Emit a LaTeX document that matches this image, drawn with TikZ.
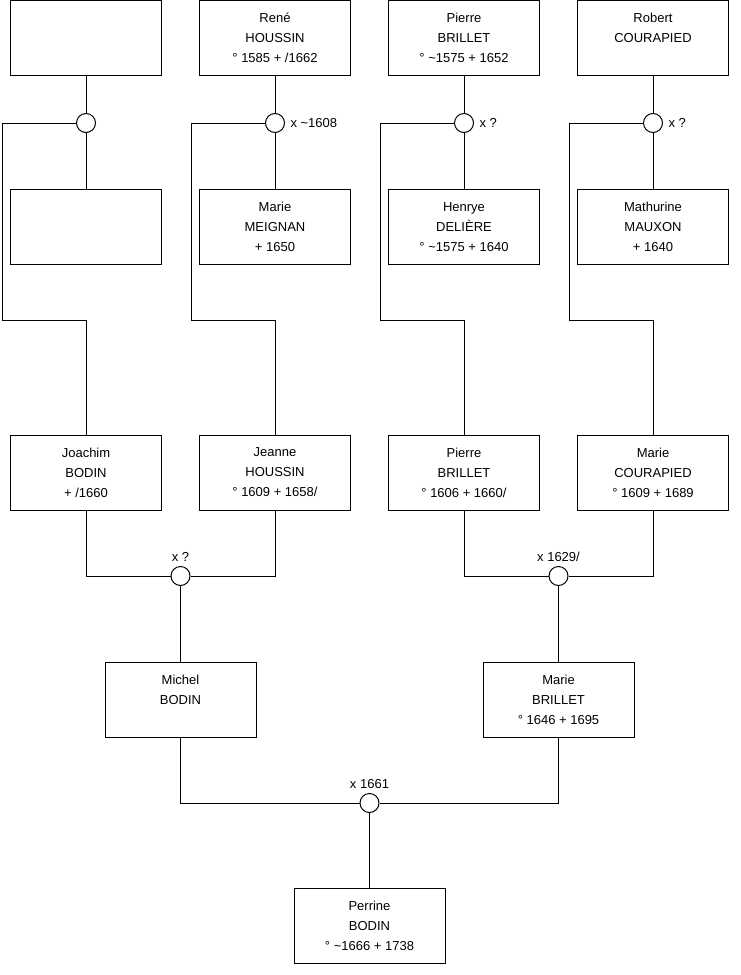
\documentclass[tikz,border=0pt]{standalone}
\usepackage{fontspec}
\setmainfont{Liberation Sans}
\usetikzlibrary{positioning}
\newcommand{\apprx}{\textasciitilde}

\begin{document}
\begin{tikzpicture}[x=0.75pt, y=-0.75pt, line width=0.75pt,
        p/.style={draw, align=center, font=\fontsize{9.75}{15}\selectfont, minimum width=113.25pt, minimum height=56.25pt, inner sep=0pt},
        u/.style={draw, circle, fill=white, minimum size=14.25pt, inner sep=0pt},
        ul/.style={font=\fontsize{9.75}{12}\selectfont, inner sep=1pt}]
      \useasboundingbox (0,0) rectangle (740,975);
      % great-grandparents
      \node[p] (a1) at (86,38) {};
      \node[p] (a2) at (275,38) {René\\HOUSSIN\\° 1585 + /1662};
      \node[p] (a3) at (464,38) {Pierre\\BRILLET\\° \apprx1575 + 1652};
      \node[p] (a4) at (653,38) {Robert\\COURAPIED\\\mbox{}};
      \node[p] (b1) at (86,227) {};
      \node[p] (b2) at (275,227) {Marie\\MEIGNAN\\+ 1650};
      \node[p] (b3) at (464,227) {Henrye\\DELIÈRE\\° \apprx1575 + 1640};
      \node[p] (b4) at (653,227) {Mathurine\\MAUXON\\+ 1640};
      \node[u] (u1) at (86,123) {};
      \node[u] (u2) at (275,123) {};
      \node[u] (u3) at (464,123) {};
      \node[u] (u4) at (653,123) {};
      \node[ul, right=2.75pt of u2] (l2) {x \apprx1608};
      \node[ul, right=2.75pt of u3] (l3) {x ?};
      \node[ul, right=2.75pt of u4] (l4) {x ?};
      % grandparents
      \node[p] (c1) at (86,472.5) {Joachim\\BODIN\\+ /1660};
      \node[p] (c2) at (275,472.5) {Jeanne\\HOUSSIN\\° 1609 + 1658/};
      \node[p] (c3) at (464,472.5) {Pierre\\BRILLET\\° 1606 + 1660/};
      \node[p] (c4) at (653,472.5) {Marie\\COURAPIED\\° 1609 + 1689};
      \node[u] (u5) at (180.5,576) {};
      \node[u] (u6) at (558.5,576) {};
      \node[ul, above=2pt of u5] (l5) {x ?};
      \node[ul, above=2pt of u6] (l6) {x 1629/};
      % parents
      \node[p] (d1) at (180.5,699.5) {Michel\\BODIN\\\mbox{}};
      \node[p] (d2) at (558.5,699.5) {Marie\\BRILLET\\° 1646 + 1695};
      \node[u] (u7) at (369.5,803) {};
      \node[ul, above=2pt of u7] (l7) {x 1661};
      \node[p] (e1) at (369.5,926) {Perrine\\BODIN\\° \apprx1666 + 1738};
      % bends
      \coordinate (k1) at (2,320);
      \coordinate (k2) at (191,320);
      \coordinate (k3) at (380,320);
      \coordinate (k4) at (569,320);
      \draw (a1) -- (u1) -- (b1); \draw (a2) -- (u2) -- (b2);
      \draw (a3) -- (u3) -- (b3); \draw (a4) -- (u4) -- (b4);
      \draw (u1.west) -| (k1) -| (c1.north);
      \draw (u2.west) -| (k2) -| (c2.north);
      \draw (u3.west) -| (k3) -| (c3.north);
      \draw (u4.west) -| (k4) -| (c4.north);
      \draw (c1) |- (u5); \draw (c2) |- (u5); \draw (u5) -- (d1);
      \draw (c3) |- (u6); \draw (c4) |- (u6); \draw (u6) -- (d2);
      \draw (d1) |- (u7); \draw (d2) |- (u7); \draw (u7) -- (e1);
      \end{tikzpicture}
\end{document}
